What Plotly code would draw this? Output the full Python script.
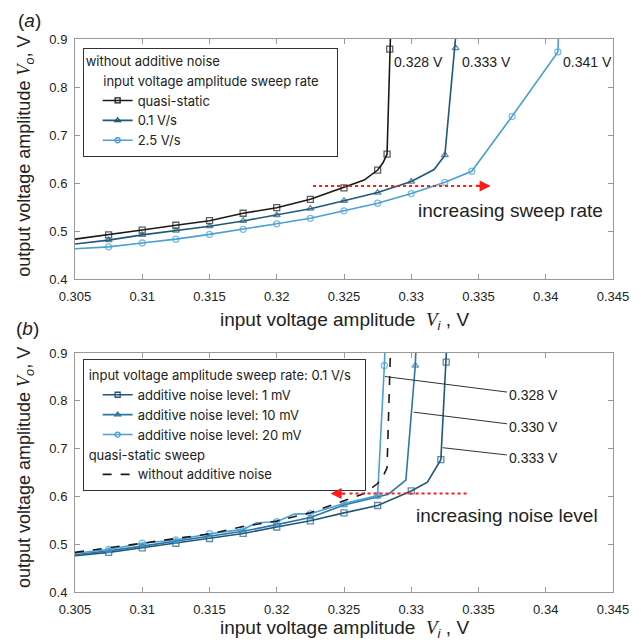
import plotly.graph_objects as go

# ---------------- data: panel (a) ----------------
x_ticks = [0.305, 0.31, 0.315, 0.32, 0.325, 0.33, 0.335, 0.34, 0.345]
x_tick_labels = ["0.305", "0.31", "0.315", "0.32", "0.325", "0.33", "0.335", "0.34", "0.345"]
y_ticks = [0.4, 0.5, 0.6, 0.7, 0.8, 0.9]
y_tick_labels = ["0.4", "0.5", "0.6", "0.7", "0.8", "0.9"]

qs_x = [0.305, 0.3075, 0.31, 0.3125, 0.315, 0.3175, 0.32, 0.3225, 0.325, 0.3265, 0.3275, 0.3279, 0.3282, 0.3284, 0.3285]
qs_y = [0.483, 0.492, 0.502, 0.512, 0.5215, 0.537, 0.5485, 0.566, 0.590, 0.606, 0.627, 0.642, 0.660, 0.879, 0.95]
qs_sampled = [0, 1, 1, 1, 1, 1, 1, 1, 1, 0, 1, 0, 1, 1, 0]

r01_x = [0.305, 0.3075, 0.31, 0.3125, 0.315, 0.3175, 0.32, 0.3225, 0.325, 0.3275, 0.33, 0.3317, 0.3325, 0.3333, 0.33345]
r01_y = [0.473, 0.481, 0.492, 0.5006, 0.510, 0.521, 0.533, 0.5465, 0.563, 0.580, 0.603, 0.628, 0.658, 0.881, 0.95]
r01_sampled = [0, 1, 1, 1, 1, 1, 1, 1, 1, 1, 1, 0, 1, 1, 0]

r25_x = [0.305, 0.3075, 0.31, 0.3125, 0.315, 0.3175, 0.32, 0.3225, 0.325, 0.3275, 0.33, 0.3325, 0.3345, 0.3375, 0.3409, 0.3410]
r25_y = [0.463, 0.467, 0.475, 0.483, 0.493, 0.5035, 0.515, 0.5264, 0.542, 0.558, 0.578, 0.6015, 0.6245, 0.739, 0.873, 0.95]
r25_sampled = [0, 1, 1, 1, 1, 1, 1, 1, 1, 1, 1, 1, 1, 1, 1, 0]

a_jump_values = [0.3286, 0.3336, 0.3411]
a_jump_labels = ["0.328 V", "0.333 V", "0.341 V"]
a_jump_label_y = 0.853

# ---------------- data: panel (b) ----------------
n1_x = [0.305, 0.3075, 0.31, 0.3125, 0.315, 0.3175, 0.32, 0.3225, 0.325, 0.3275, 0.33, 0.3312, 0.3322, 0.3326, 0.3327]
n1_y = [0.476, 0.483, 0.4925, 0.502, 0.512, 0.5225, 0.536, 0.549, 0.5656, 0.581, 0.6115, 0.630, 0.677, 0.881, 0.95]
n1_sampled = [0, 1, 1, 1, 1, 1, 1, 1, 1, 1, 1, 0, 1, 1, 0]

n10_x = [0.305, 0.3075, 0.31, 0.3125, 0.315, 0.3175, 0.32, 0.3225, 0.325, 0.3275, 0.3283, 0.3296, 0.3303, 0.3304]
n10_y = [0.478, 0.486, 0.496, 0.506, 0.516, 0.527, 0.541, 0.556, 0.582, 0.600, 0.6046, 0.634, 0.874, 0.95]
n10_sampled = [0, 1, 1, 1, 1, 1, 1, 1, 1, 1, 0, 0, 1, 0]

n20_x = [0.305, 0.3075, 0.31, 0.3125, 0.315, 0.3175, 0.3185, 0.32, 0.3213, 0.3225, 0.325, 0.3275, 0.3280, 0.3281]
n20_y = [0.481, 0.489, 0.502, 0.509, 0.522, 0.531, 0.545, 0.547, 0.563, 0.564, 0.585, 0.602, 0.874, 0.95]
n20_sampled = [0, 1, 1, 1, 1, 1, 0, 1, 0, 1, 1, 1, 1, 0]

# leader labels panel (b)
b_label_text_x = [0.33912, 0.33912, 0.33912]
b_label_text_y = [0.8113, 0.745, 0.6804]
b_label_tip_x = [0.32804, 0.33018, 0.33234]
b_label_tip_y = [0.851, 0.7764, 0.702]
b_labels = ["0.328 V", "0.330 V", "0.333 V"]

# arrows (data coordinates)
a_arrow = dict(start=0.3227, head_base=0.3347, tip=0.3359, y=0.594)
b_arrow = dict(start=0.33411, head_base=0.3252, tip=0.3240, y=0.606)
a_text = dict(x=0.3374, y=0.5423, text="increasing sweep rate")
b_text = dict(x=0.3371, y=0.5607, text="increasing noise level")

# ---------------- styling ----------------
FONT = "Liberation Sans, Arial, sans-serif"
LFONT = "Inter, Liberation Sans, Arial, sans-serif"
TXT = "#222222"
AXC = "#999999"
C_BLACK = "#1a1a1a"
C_DARK = "#1f5878"
C_MED = "#2b76a6"
C_LIGHT = "#4aa0d2"
RED = "#ff1a1a"
MS = 6
LEG_FONT = dict(size=13, color=TXT, family=LFONT)

fig = go.Figure()


def add_series(x, y, sampled, color, symbol, xa, ya, name, legend, group, grouptitle=None, dash="solid"):
    sizes = [MS if s else 0 for s in sampled]
    fig.add_trace(go.Scatter(
        x=x, y=y, mode="lines+markers" if any(sampled) else "lines",
        line=dict(color=color, width=1.6, dash=dash),
        marker=dict(symbol=symbol, size=sizes, color=color,
                    line=dict(color=color, width=1.3)),
        xaxis=xa, yaxis=ya, showlegend=False, hoverinfo="skip"))
    kw = {}
    if grouptitle is not None:
        kw["legendgrouptitle"] = dict(text=grouptitle, font=LEG_FONT)
    fig.add_trace(go.Scatter(
        x=[None], y=[None], mode="lines+markers" if any(sampled) else "lines",
        line=dict(color=color, width=1.6, dash=dash),
        marker=dict(symbol=symbol, size=MS - 1, color=color,
                    line=dict(color=color, width=1.3)),
        xaxis=xa, yaxis=ya, name=name, legend=legend, legendgroup=group, **kw))


G_A = "&nbsp;&nbsp;&nbsp;&nbsp;input voltage amplitude sweep rate&nbsp;&nbsp;"
add_series(qs_x, qs_y, qs_sampled, C_BLACK, "square-open", "x", "y", "quasi-static", "legend", "a", G_A)
add_series(r01_x, r01_y, r01_sampled, C_DARK, "triangle-up-open", "x", "y", "0.1 V/s", "legend", "a")
add_series(r25_x, r25_y, r25_sampled, C_LIGHT, "circle-open", "x", "y", "2.5 V/s", "legend", "a")

G_B1 = "input voltage amplitude sweep rate: 0.1 V/s&nbsp;"
G_B2 = "quasi-static sweep"
add_series(n1_x, n1_y, n1_sampled, C_DARK, "square-open", "x2", "y2", "additive noise level: 1 mV", "legend2", "b1", G_B1)
add_series(n10_x, n10_y, n10_sampled, C_MED, "triangle-up-open", "x2", "y2", "additive noise level: 10 mV", "legend2", "b1")
add_series(n20_x, n20_y, n20_sampled, C_LIGHT, "circle-open", "x2", "y2", "additive noise level: 20 mV", "legend2", "b1")
add_series(qs_x, qs_y, [0] * len(qs_x), C_BLACK, "square-open", "x2", "y2", "without additive noise", "legend2", "b2", G_B2, dash="dash")

axis_common = dict(range=[0.305, 0.345], tickvals=x_ticks, ticktext=x_tick_labels,
                   showline=True, linecolor=AXC, linewidth=1, mirror="ticks",
                   ticks="inside", ticklen=5, tickcolor=AXC, showgrid=False, zeroline=False,
                   tickfont=dict(size=13, color=TXT, family=FONT), ticklabelstandoff=5)
yaxis_common = dict(range=[0.4, 0.9], tickvals=y_ticks, ticktext=y_tick_labels,
                    showline=True, linecolor=AXC, linewidth=1, mirror="ticks",
                    ticks="inside", ticklen=5, tickcolor=AXC, showgrid=False, zeroline=False,
                    tickfont=dict(size=13, color=TXT, family=FONT), ticklabelstandoff=4)

TOP_A = 0.566
TOP_B = 0.432
fig.update_layout(
    width=633, height=632,
    margin=dict(l=67, r=23, t=31, b=48),
    paper_bgcolor="white", plot_bgcolor="white",
    font=dict(family=FONT, color=TXT),
    xaxis=dict(domain=[0, 1], anchor="y", **axis_common),
    yaxis=dict(domain=[TOP_A, 1], anchor="x", **yaxis_common),
    xaxis2=dict(domain=[0, 1], anchor="y2", **axis_common),
    yaxis2=dict(domain=[0, TOP_B], anchor="x2", **yaxis_common),
    legend=dict(x=0.0142, y=0.9843, xanchor="left", yanchor="top", bgcolor="white",
                bordercolor="#333333", borderwidth=1, font=LEG_FONT,
                title=dict(text="without additive noise", font=LEG_FONT),
                tracegroupgap=0, itemwidth=30, traceorder="grouped", indentation=14),
    legend2=dict(x=0.0142, y=0.4215, xanchor="left", yanchor="top", bgcolor="white",
                 bordercolor="#333333", borderwidth=1, font=LEG_FONT,
                 tracegroupgap=0, itemwidth=30, traceorder="grouped", indentation=14),
)

V_I = "<i><span style='font-family:Liberation Serif'>V</span><sub>i</sub></i>"
V_O = "<i><span style='font-family:Liberation Serif'>V</span><sub>o</sub></i>"
XT = "input voltage amplitude  " + V_I + " , V"
YT = "output voltage amplitude " + V_O + ", V"

ann = []
ann.append(dict(xref="paper", yref="paper", x=0.5, y=0.4905, text=XT, showarrow=False,
                font=dict(size=19, color=TXT), xanchor="center", yanchor="middle"))
ann.append(dict(xref="paper", yref="paper", x=0.5, y=-0.0665, text=XT, showarrow=False,
                font=dict(size=19, color=TXT), xanchor="center", yanchor="middle"))
ann.append(dict(xref="paper", yref="paper", x=-0.092, y=0.788, text=YT, showarrow=False, textangle=-90,
                font=dict(size=18, color=TXT), xanchor="center", yanchor="middle"))
ann.append(dict(xref="paper", yref="paper", x=-0.092, y=0.2251, text=YT, showarrow=False, textangle=-90,
                font=dict(size=18, color=TXT), xanchor="center", yanchor="middle"))
ann.append(dict(xref="paper", yref="paper", x=-0.0838, y=1.056, text="(<i>a</i>)", showarrow=False,
                font=dict(size=19, color=TXT), xanchor="center", yanchor="top"))
ann.append(dict(xref="paper", yref="paper", x=-0.0875, y=0.4769, text="(<i>b</i>)", showarrow=False,
                font=dict(size=19, color=TXT), xanchor="center", yanchor="middle"))

for xv, lab in zip(a_jump_values, a_jump_labels):
    ann.append(dict(xref="x", yref="y", x=xv, y=a_jump_label_y, text=lab, showarrow=False,
                    xanchor="left", yanchor="middle", font=dict(size=14, color=TXT)))

for tx, ty, px, py, lab in zip(b_label_text_x, b_label_text_y, b_label_tip_x, b_label_tip_y, b_labels):
    ann.append(dict(xref="x2", yref="y2", x=px, y=py, ax=tx, ay=ty, axref="x2", ayref="y2",
                    text=lab, showarrow=True, arrowhead=0, arrowwidth=1, arrowcolor="#333333",
                    font=dict(size=14, color=TXT), borderpad=2))

ann.append(dict(xref="x", yref="y", x=a_text["x"], y=a_text["y"], text=a_text["text"], showarrow=False,
                font=dict(size=19, color=TXT), xanchor="center", yanchor="middle"))
ann.append(dict(xref="x2", yref="y2", x=b_text["x"], y=b_text["y"], text=b_text["text"], showarrow=False,
                font=dict(size=19, color=TXT), xanchor="center", yanchor="middle"))

shapes = []
for arr, xr, yr in [(a_arrow, "x", "y"), (b_arrow, "x2", "y2")]:
    shapes.append(dict(type="line", xref=xr, yref=yr, x0=arr["start"], x1=arr["head_base"],
                       y0=arr["y"], y1=arr["y"], line=dict(color=RED, width=2, dash="dot")))
    ann.append(dict(xref=xr, yref=yr, x=arr["tip"], y=arr["y"], ax=arr["head_base"], ay=arr["y"],
                    axref=xr, ayref=yr, text="", showarrow=True, arrowhead=2, arrowsize=1.0,
                    arrowwidth=2.2, arrowcolor=RED))

fig.update_layout(annotations=ann, shapes=shapes)
fig.write_html("out.html")
